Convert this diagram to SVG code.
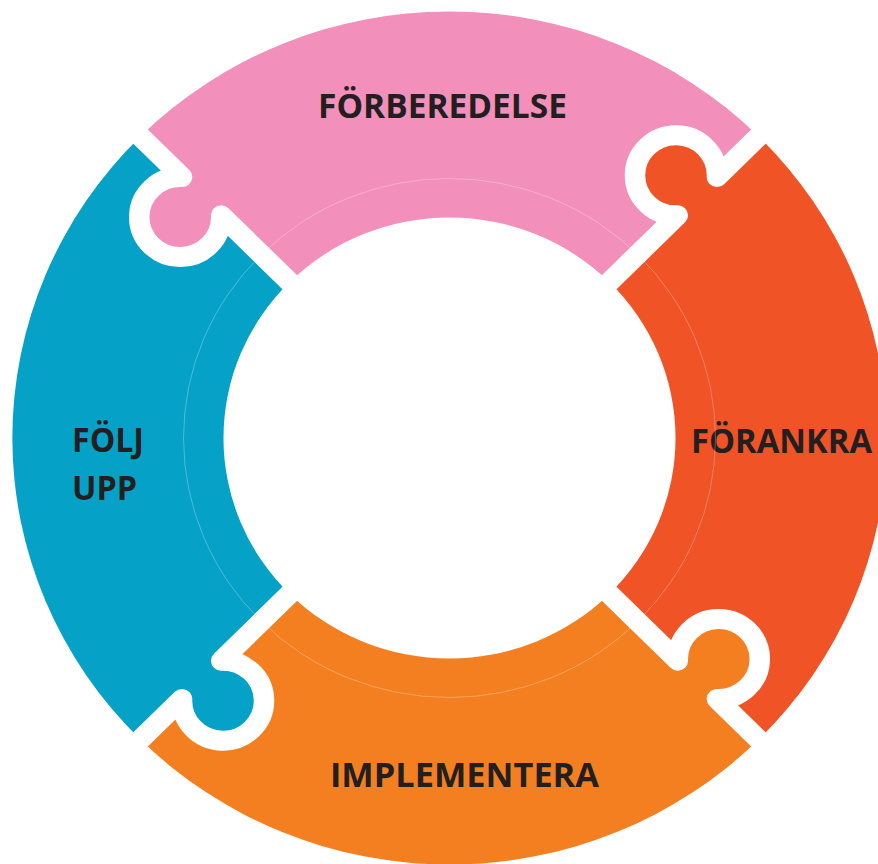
<svg xmlns="http://www.w3.org/2000/svg" width="878" height="864" viewBox="0 0 878 864">
<style>
.lbl{font-family:"Open Sans","Noto Sans","Liberation Sans",sans-serif;font-weight:700;font-size:34px;fill:#231F20}
.sep{fill:none;stroke:#FFFFFF;stroke-width:20;stroke-linejoin:round;stroke-linecap:butt}
.hair{fill:none;stroke:#FFFFFF;stroke-opacity:0.35;stroke-width:0.8}
</style>
<rect width="878" height="864" fill="#FFFFFF"/>
<g id="forberedelse">
<path fill="#F28FBB" transform="translate(449.5 438) scale(1.025 1)" d="M -301.58 -301.58 A 426.5 426.5 0 0 1 301.58 -301.58 L 260.92 -260.92 A 40 40 0 1 0 222.74 -222.74 L 155.92 -155.92 A 220.5 220.5 0 0 0 -155.92 -155.92 L -222.74 -222.74 A 40 40 0 1 1 -260.92 -260.92 Z"/>
<text class="lbl" x="318" y="118" textLength="249" lengthAdjust="spacingAndGlyphs">FÖRBEREDELSE</text>
</g>
<g id="forankra">
<path fill="#F05326" transform="translate(449.5 438) scale(1.025 1)" d="M 301.58 -301.58 A 426.5 426.5 0 0 1 301.58 301.58 L 260.92 260.92 A 40 40 0 1 0 222.74 222.74 L 155.92 155.92 A 220.5 220.5 0 0 0 155.92 -155.92 L 222.74 -222.74 A 40 40 0 1 1 260.92 -260.92 Z"/>
<text class="lbl" x="691" y="453" textLength="181" lengthAdjust="spacingAndGlyphs">FÖRANKRA</text>
</g>
<g id="implementera">
<path fill="#F47F21" transform="translate(449.5 438) scale(1.025 1)" d="M 301.58 301.58 A 426.5 426.5 0 0 1 -301.58 301.58 L -260.92 260.92 A 40 40 0 1 0 -222.74 222.74 L -155.92 155.92 A 220.5 220.5 0 0 0 155.92 155.92 L 222.74 222.74 A 40 40 0 1 1 260.92 260.92 Z"/>
<text class="lbl" x="330" y="787" textLength="269" lengthAdjust="spacingAndGlyphs">IMPLEMENTERA</text>
</g>
<g id="folj-upp">
<path fill="#06A1C6" transform="translate(449.5 438) scale(1.025 1)" d="M -301.58 301.58 A 426.5 426.5 0 0 1 -301.58 -301.58 L -260.92 -260.92 A 40 40 0 1 0 -222.74 -222.74 L -155.92 -155.92 A 220.5 220.5 0 0 0 -155.92 155.92 L -222.74 222.74 A 40 40 0 1 1 -260.92 260.92 Z"/>
<text class="lbl" x="72" y="452" textLength="72" lengthAdjust="spacingAndGlyphs">FÖLJ</text>
<text class="lbl" x="72" y="500" textLength="65" lengthAdjust="spacingAndGlyphs">UPP</text>
</g>
<g id="connectors" transform="translate(449.5 438) scale(1.025 1)">
<circle class="hair" cx="0" cy="0" r="259.5"/>
<path class="sep" d="M -141.42 -141.42 L -222.74 -222.74 A 40 40 0 1 1 -260.92 -260.92 L -314.66 -314.66"/>
<path class="sep" d="M 141.42 -141.42 L 222.74 -222.74 A 40 40 0 1 1 260.92 -260.92 L 314.66 -314.66"/>
<path class="sep" d="M 141.42 141.42 L 222.74 222.74 A 40 40 0 1 1 260.92 260.92 L 314.66 314.66"/>
<path class="sep" d="M -141.42 141.42 L -222.74 222.74 A 40 40 0 1 1 -260.92 260.92 L -314.66 314.66"/>
</g>
</svg>
